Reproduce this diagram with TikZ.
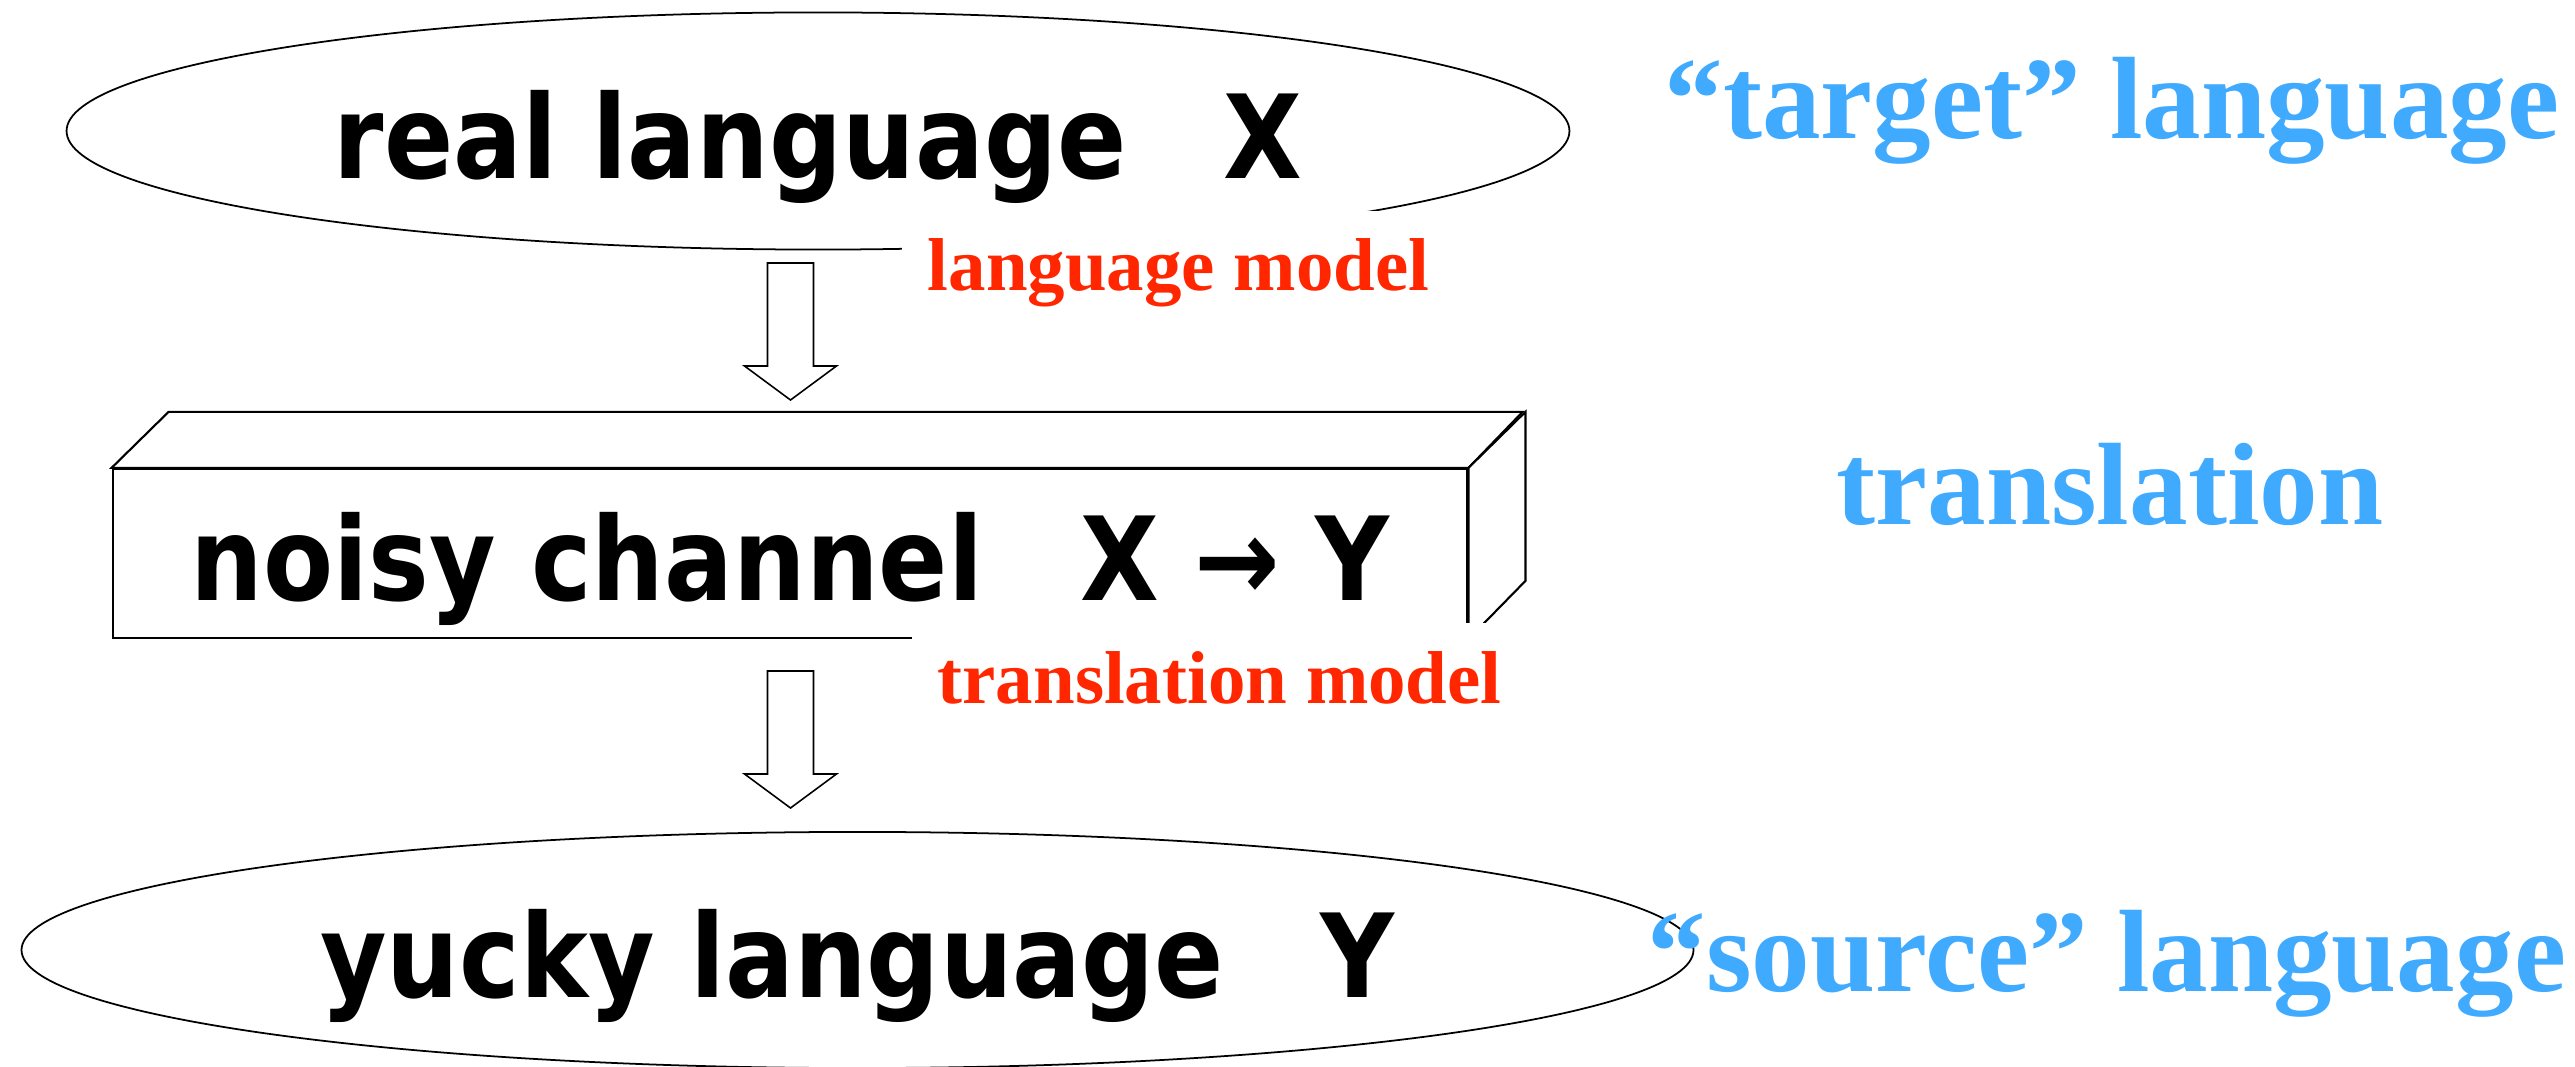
\documentclass[tikz,border=0pt]{standalone}
\usepackage{graphicx}
\usepackage{fontspec}
\setmainfont{Liberation Serif}
\newfontfamily\boxfont{DejaVu Sans}
\usetikzlibrary{shapes}

\definecolor{modelred}{RGB}{255,38,0}
\definecolor{langblue}{RGB}{64,170,255}

\newcommand{\bigtxt}[1]{\scalebox{0.88}[1]{\boxfont\bfseries\fontsize{33}{40}\selectfont #1}}
\newcommand{\blockarrow}[1]{\draw[blockarrow] (#1) ++(-23,0) -- ++(0,103) -- ++(-23,0) -- ++(46,34) -- ++(46,-34) -- ++(-23,0) -- ++(0,-103) -- cycle;}

\begin{document}
\begin{tikzpicture}[x=0.01cm, y=-0.01cm,
  bigtext/.style={text height=1.1cm, text depth=0.16cm, inner sep=0pt},
  modeltext/.style={font=\bfseries\fontsize{21.3}{26}\selectfont, text=modelred, fill=white, inner xsep=0.26cm, inner ysep=0.28cm, anchor=base west},
  sidetext/.style={font=\bfseries\fontsize{33.3}{40}\selectfont, text=langblue, anchor=base west, inner sep=0pt},
  boxface/.style={draw=black, line width=0.6pt, fill=white, line join=miter},
  blockarrow/.style={draw=black, line width=0.45pt, fill=white, line join=miter}]
\useasboundingbox (0,0) rectangle (2575,1067);
% real language (top ellipse)
\node[draw, ellipse, line width=0.5pt, minimum width=15.02cm, minimum height=2.37cm, bigtext] (realX) at (818,131) {\bigtxt{real language\hspace{1.1cm}X}};
\node[modeltext] (langmodel) at (901,291) {language model};
\coordinate (lmarrow) at (790.5,263);
\blockarrow{lmarrow}
% noisy channel box
\node[draw, rectangle, line width=0.6pt, minimum width=13.54cm, minimum height=1.69cm, bigtext] (channel) at (790,553.5) {\bigtxt{noisy channel\hspace{1.1cm}X → Y}};
\draw[boxface] (channel.north west) -- ++(57,-56) -- ++(1354,0) -- (channel.north east) -- cycle;
\draw[boxface] (channel.north east) -- ++(57,-56) -- ++(0,169) -- (channel.south east) -- cycle;
\node[modeltext] (transmodel) at (911,703) {translation model};
\coordinate (tmarrow) at (790.5,671);
\blockarrow{tmarrow}
% yucky language (bottom ellipse)
\node[draw, ellipse, line width=0.5pt, minimum width=16.71cm, minimum height=2.36cm, bigtext] (yuckyY) at (857.5,950) {\bigtxt{yucky language\hspace{1.1cm}Y}};
% side labels
\node[sidetext] (target) at (1664,139) {“target” language};
\node[sidetext] (transl) at (1836,525) {translation};
\node[sidetext] (source) at (1647,991) {“source” language};
\end{tikzpicture}
\end{document}
